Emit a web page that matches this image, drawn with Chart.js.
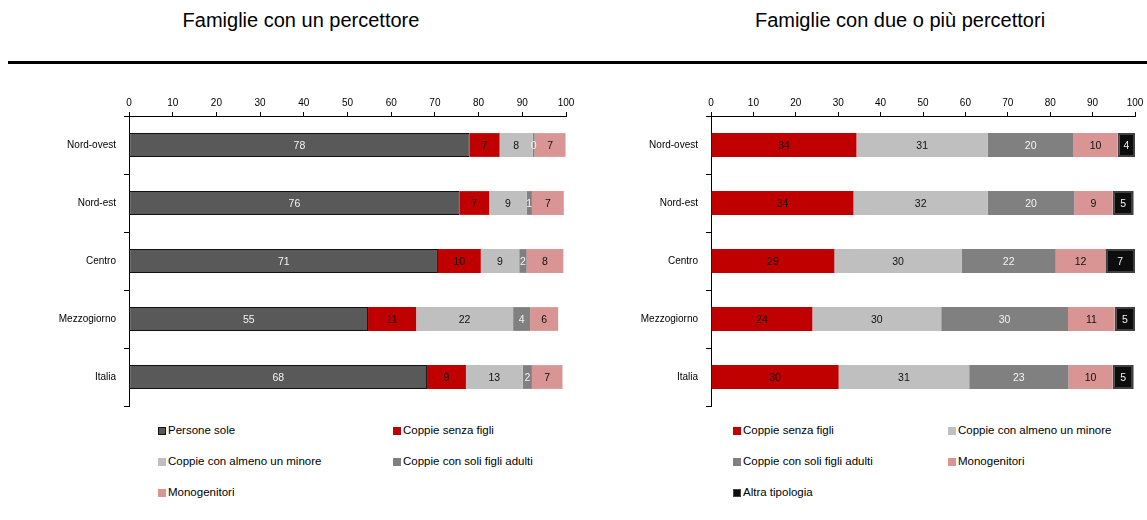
<!DOCTYPE html>
<html lang="it">
<head>
<meta charset="utf-8">
<title>Famiglie per tipologia</title>
<script src="https://cdn.jsdelivr.net/npm/chart.js@4.4.0/dist/chart.umd.min.js"></script>
<style>
  body { margin: 0; width: 1147px; height: 520px; background: #fff; position: relative; overflow: hidden;
         font-family: 'Liberation Sans', Arial, sans-serif; }
  .title { position: absolute; top: 9px; width: 420px; text-align: center; color: #000;
           font-family: 'Liberation Sans Narrow', 'Arial Narrow', 'Liberation Sans', sans-serif; font-size: 20px; }
  .rule { position: absolute; left: 8px; right: 0; top: 61px; height: 3px; background: #000; }
  .box { position: absolute; top: 80px; height: 340px; }
  .legend { position: absolute; top: 0; left: 0; font-size: 11.5px; color: #000; }
  .item { position: absolute; white-space: nowrap; line-height: 14px; }
  .sw { display: inline-block; width: 8px; height: 8px; margin-right: 2px; box-sizing: border-box; vertical-align: -0.5px; }
</style>
</head>
<body>
<div class="title" style="left:91px">Famiglie con un percettore</div>
<div class="title" style="left:690px">Famiglie con due o più percettori</div>
<div class="rule"></div>

<div class="box" style="left:0;width:590px"><canvas id="uno"></canvas></div>
<div class="box" style="left:590px;width:557px"><canvas id="due"></canvas></div>
<div id="leg1" class="legend"></div>
<div id="leg2" class="legend"></div>

<script>
// categorie e valori (quote percentuali)
const regioni = ['Nord-ovest', 'Nord-est', 'Centro', 'Mezzogiorno', 'Italia'];
const tickX = [0, 10, 20, 30, 40, 50, 60, 70, 80, 90, 100];

// famiglie con un percettore
const personeSole1 = [77.9, 75.6, 70.7, 54.7, 68.2];
const senzaFigli1 = [6.9, 6.8, 9.8, 11.0, 8.9];
const almenoMinore1 = [7.6, 8.6, 8.8, 22.2, 13.0];
const soliAdulti1 = [0.4, 1.2, 1.7, 3.9, 2.1];
const monogenitori1 = [7.1, 7.3, 8.4, 6.4, 7.0];

// famiglie con due o più percettori
const senzaFigli2 = [34.3, 33.6, 29.1, 23.9, 30.1];
const almenoMinore2 = [31.0, 31.7, 30.0, 30.4, 30.8];
const soliAdulti2 = [20.2, 20.4, 22.2, 29.9, 23.4];
const monogenitori2 = [10.4, 9.0, 11.7, 11.0, 10.4];
const altra2 = [4.1, 5.0, 7.0, 4.8, 5.0];

const narrow = "'Liberation Sans Narrow', 'Arial Narrow', 'Liberation Sans', sans-serif";

const stili = {
  'Persone sole': { bg: '#595959', border: '#111', bw: 1, txt: '#f2f2f2' },
  'Coppie senza figli': { bg: '#c00000', border: '#c00000', bw: 0, txt: '#111' },
  'Coppie con almeno un minore': { bg: '#bfbfbf', border: '#bfbfbf', bw: 0, txt: '#111' },
  'Coppie con soli figli adulti': { bg: '#808080', border: '#808080', bw: 0, txt: '#f2f2f2' },
  'Monogenitori': { bg: '#d99594', border: '#d99594', bw: 0, txt: '#111' },
  'Altra tipologia': { bg: '#0d0d0d', border: '#404040', bw: 2, txt: '#f2f2f2' }
};

function serie(label, data) {
  const s = stili[label];
  return {
    label, data,
    backgroundColor: s.bg, borderColor: s.border, borderWidth: s.bw,
    borderSkipped: false, labelColor: s.txt,
    barPercentage: 0.41, categoryPercentage: 1
  };
}

// etichette dei valori al centro di ogni segmento
const valori = {
  id: 'valori',
  afterDatasetsDraw(chart) {
    const ctx = chart.ctx;
    ctx.save();
    ctx.font = '10.5px ' + narrow;
    ctx.textAlign = 'center';
    ctx.textBaseline = 'middle';
    chart.data.datasets.forEach((ds, i) => {
      chart.getDatasetMeta(i).data.forEach((bar, j) => {
        const p = bar.getCenterPoint();
        ctx.fillStyle = ds.labelColor;
        ctx.fillText(Math.round(ds.data[j]), p.x, p.y + 1);
      });
    });
    ctx.restore();
  }
};

function grafico(id, datasets, yWidth, padRight) {
  return new Chart(document.getElementById(id), {
    type: 'bar',
    data: { labels: regioni, datasets },
    plugins: [valori],
    options: {
      indexAxis: 'y',
      responsive: true,
      maintainAspectRatio: false,
      animation: false,
      layout: { padding: { top: 0, left: 0, right: padRight, bottom: 13 } },
      plugins: { legend: { display: false }, tooltip: { enabled: false } },
      scales: {
        x: {
          position: 'top', stacked: true, min: 0, max: 100,
          afterBuildTicks: s => { s.ticks = tickX.map(v => ({ value: v })); },
          afterFit: s => { s.height = 36; },
          grid: { drawOnChartArea: false, tickLength: 4, color: '#000' },
          border: { color: '#000', width: 1 },
          ticks: { color: '#000', padding: 3, maxRotation: 0, font: { family: narrow, size: 10 } }
        },
        y: {
          stacked: true, offset: true,
          afterFit: s => { s.width = yWidth; },
          grid: { offset: true, drawOnChartArea: false, tickLength: 5, color: '#000' },
          border: { color: '#000', width: 1 },
          ticks: { color: '#000', padding: 8, font: { family: narrow, size: 10 } }
        }
      }
    }
  });
}

const ds1 = [
  serie('Persone sole', personeSole1),
  serie('Coppie senza figli', senzaFigli1),
  serie('Coppie con almeno un minore', almenoMinore1),
  serie('Coppie con soli figli adulti', soliAdulti1),
  serie('Monogenitori', monogenitori1)
];
const ds2 = [
  serie('Coppie senza figli', senzaFigli2),
  serie('Coppie con almeno un minore', almenoMinore2),
  serie('Coppie con soli figli adulti', soliAdulti2),
  serie('Monogenitori', monogenitori2),
  serie('Altra tipologia', altra2)
];

grafico('uno', ds1, 129, 24);
grafico('due', ds2, 121, 12);

// legenda su due colonne
function legenda(id, datasets, cols, top) {
  const el = document.getElementById(id);
  datasets.forEach((ds, i) => {
    const s = stili[ds.label];
    const it = document.createElement('div');
    it.className = 'item';
    it.style.left = cols[i % 2] + 'px';
    it.style.top = (top + Math.floor(i / 2) * 31) + 'px';
    const sw = document.createElement('span');
    sw.className = 'sw';
    sw.style.background = s.bg;
    if (s.bw) sw.style.border = '1px solid ' + (s.bw > 1 ? '#444' : '#111');
    it.appendChild(sw);
    it.appendChild(document.createTextNode(ds.label));
    el.appendChild(it);
  });
}
legenda('leg1', ds1, [158, 393], 423);
legenda('leg2', ds2, [733, 948], 423);
</script>
</body>
</html>
